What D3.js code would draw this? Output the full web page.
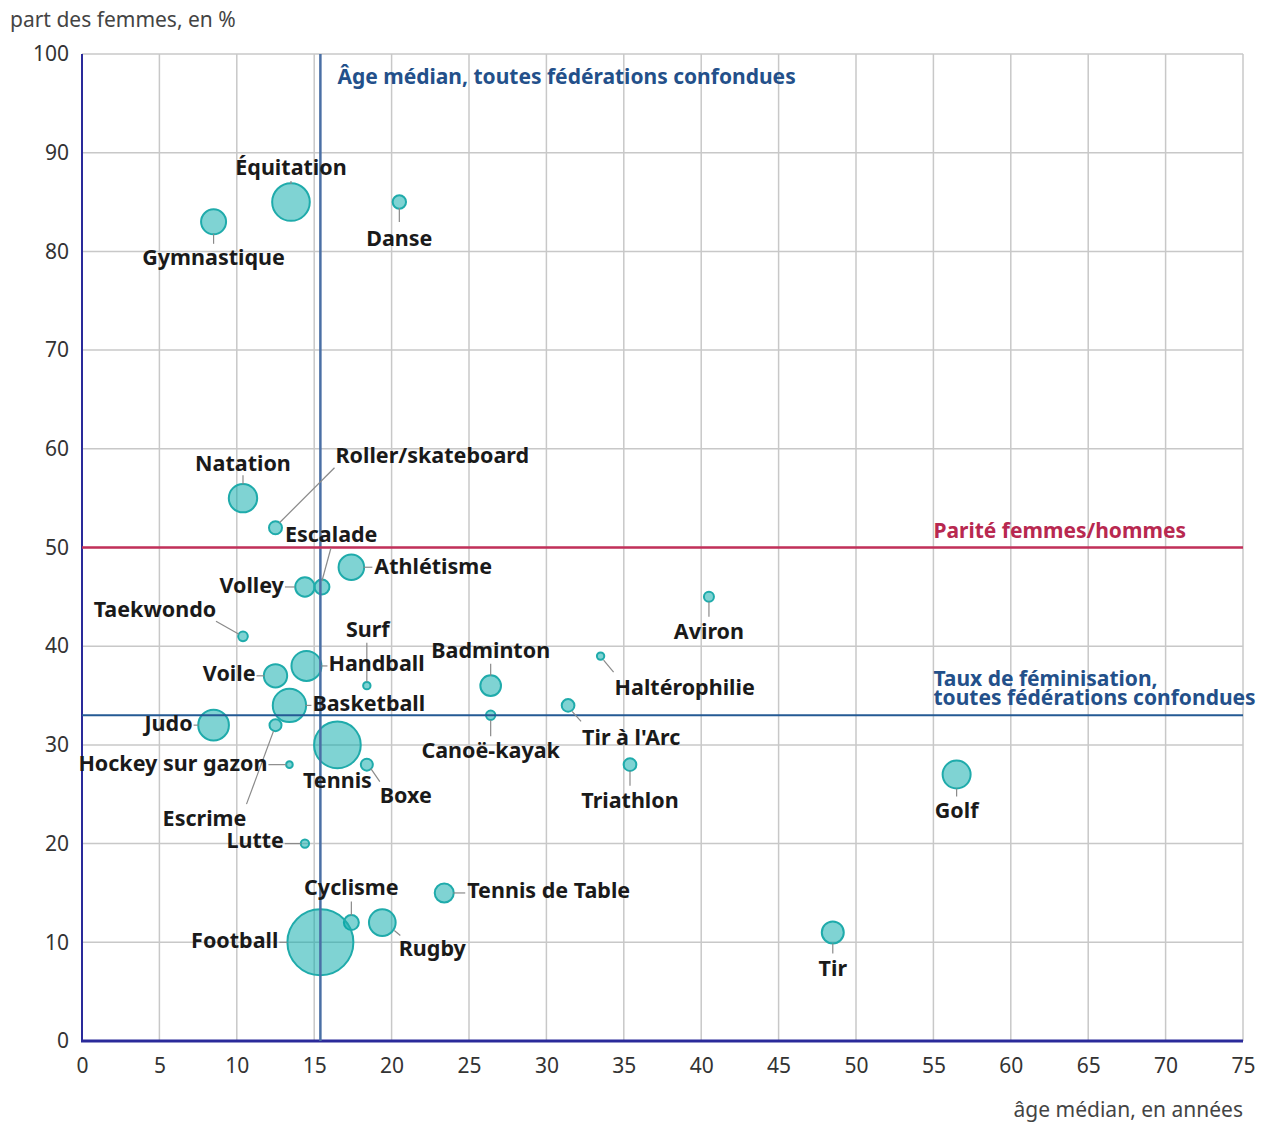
<!DOCTYPE html>
<html>
<head>
<meta charset="utf-8">
<script src="https://cdn.jsdelivr.net/npm/d3@7"></script>
<style>
  body { margin: 0; background: #fff; }
  svg { display: block; font-family: "Noto Sans", "Open Sans", sans-serif; }
</style>
</head>
<body>
<svg id="chart" width="1270" height="1124"></svg>
<script>
// sports, median age (years), share of women (%), licences (thousands, from bubble size)
const sports = ['Équitation', 'Gymnastique', 'Danse', 'Natation', 'Roller/skateboard', 'Escalade',
  'Athlétisme', 'Volley', 'Taekwondo', 'Surf', 'Handball', 'Badminton', 'Voile', 'Basketball',
  'Judo', 'Escrime', 'Hockey sur gazon', 'Tennis', 'Boxe', 'Lutte', 'Cyclisme', 'Football',
  'Rugby', 'Tennis de Table', 'Canoë-kayak', "Tir à l'Arc", 'Haltérophilie', 'Triathlon',
  'Aviron', 'Golf', 'Tir']
const medianAge = [13.5, 8.5, 20.5, 10.4, 12.5, 15.5, 17.4, 14.4, 10.4, 18.4, 14.5, 26.4, 12.5, 13.4,
  8.5, 12.5, 13.4, 16.5, 18.4, 14.4, 17.4, 15.4, 19.4, 23.4, 26.4, 31.4, 33.5, 35.4, 40.5, 56.5, 48.5]
const womenShare = [85, 83, 85, 55, 52, 46, 48, 46, 41, 36, 38, 36, 37, 34,
  32, 32, 28, 30, 28, 20, 12, 10, 12, 15, 33, 34, 39, 28, 45, 27, 11]
const licences = [650, 287, 82, 370, 78, 103, 300, 172, 43, 25, 413, 196, 250, 510,
  432, 66, 20, 1000, 66, 32, 103, 2000, 327, 166, 40, 74, 25, 74, 46, 360, 222]

const xTicks = d3.range(0, 76, 5)
const yTicks = d3.range(0, 101, 10)
const overallMedianAge = 15.4
const overallWomenShare = 33
const parity = 50

// label placement relative to bubble centre: [anchor, dx, dy, leader x1, y1, x2, y2]
const labelPos = {
  'Équitation': ['middle', 0, -35, 0, -18, 0, -21],
  'Gymnastique': ['middle', 0, 36, 0, 12, 0, 22],
  'Danse': ['middle', 0, 36, 0, 6, 0, 20],
  'Natation': ['middle', 0, -35, 0, -14, 0, -23],
  'Roller/skateboard': ['start', 60, -72, 4, -5, 59, -60],
  'Escalade': ['start', -37, -53, 0, -6, 9, -39],
  'Athlétisme': ['start', 23, -1, 12, 0, 21, 0],
  'Volley': ['end', -21, -2, -20, 0, -10, 0],
  'Taekwondo': ['middle', -88, -27, -27, -15, -4, -2],
  'Surf': ['middle', 1, -56, 0, -43, 0, -4],
  'Handball': ['start', 22, -2, 15, 0, 21, 0],
  'Badminton': ['middle', 0, -35, 0, -22, 0, -10],
  'Voile': ['end', -20, -2, -19, 0, -11, 0],
  'Basketball': ['start', 23, -2, 16, 0, 22, 0],
  'Judo': ['end', -21, -2, -20, 0, -15, 0],
  'Escrime': ['middle', -71, 93, -2, 6, -29, 79],
  'Hockey sur gazon': ['end', -22, -1, -21, 0, -3, 0],
  'Tennis': ['middle', 0, 36, 0, 0, 0, 0],
  'Boxe': ['middle', 39, 31, 4, 4, 13, 17],
  'Lutte': ['end', -21, -3, -20, 0, -4, 0],
  'Cyclisme': ['middle', 0, -35, 0, -21, 0, -7],
  'Football': ['end', -42, -2, -41, 0, -33, 0],
  'Rugby': ['middle', 50, 26, 12, 8, 18, 13],
  'Tennis de Table': ['start', 23, -2, 9, 0, 21, 0],
  'Canoë-kayak': ['middle', 0, 35, 0, 5, 0, 21],
  "Tir à l'Arc": ['start', 14, 32, 4, 6, 13, 16],
  'Haltérophilie': ['start', 14, 31, 3, 4, 13, 16],
  'Triathlon': ['middle', 0, 36, 0, 6, 0, 21],
  'Aviron': ['middle', 0, 35, 0, 5, 0, 20],
  'Golf': ['middle', 0, 36, 0, 14, 0, 22],
  'Tir': ['middle', 0, 36, 0, 11, 0, 21]
}

const data = sports.map((name, i) => ({ name, age: medianAge[i], share: womenShare[i], lic: licences[i] }))

const svg = d3.select('#chart')
const x = d3.scaleLinear().domain([0, 75]).range([82, 1243])
const y = d3.scaleLinear().domain([0, 100]).range([1041, 54])
const r = d3.scaleSqrt().domain([0, 2000]).range([0, 33])

// grid
svg.append('g').selectAll('line').data(xTicks.slice(1)).join('line')
  .attr('x1', d => x(d)).attr('x2', d => x(d)).attr('y1', y(0)).attr('y2', y(100))
  .attr('stroke', '#c8c8c8').attr('stroke-width', 1.5)
svg.append('g').selectAll('line').data(yTicks.slice(1)).join('line')
  .attr('x1', x(0)).attr('x2', x(75)).attr('y1', d => y(d)).attr('y2', d => y(d))
  .attr('stroke', '#c8c8c8').attr('stroke-width', 1.5)

// axes
const xAxis = d3.axisBottom(x).tickValues(xTicks).tickSize(0).tickPadding(17)
const yAxis = d3.axisLeft(y).tickValues(yTicks).tickSize(0).tickPadding(13)
const gx = svg.append('g').attr('transform', `translate(0,${y(0)})`).call(xAxis)
const gy = svg.append('g').attr('transform', `translate(${x(0)},0)`).call(yAxis)
gx.select('.domain').remove()
gy.select('.domain').remove()
svg.selectAll('.tick text').attr('font-size', 21).attr('fill', '#333').attr('font-family', '"Noto Sans", sans-serif')
svg.append('line').attr('x1', x(0)).attr('x2', x(0)).attr('y1', y(100)).attr('y2', y(0))
  .attr('stroke', '#2a2a9a').attr('stroke-width', 2)
svg.append('line').attr('x1', x(0) - 1).attr('x2', x(75)).attr('y1', y(0)).attr('y2', y(0))
  .attr('stroke', '#2a2a9a').attr('stroke-width', 3)

svg.append('text').attr('x', 10).attr('y', 27).attr('font-size', 21).attr('fill', '#444')
  .text('part des femmes, en %')
svg.append('text').attr('x', x(75)).attr('y', 1117).attr('text-anchor', 'end').attr('font-size', 21).attr('fill', '#444')
  .text('âge médian, en années')

// leaders
const lab = svg.append('g')
lab.selectAll('line').data(data.filter(d => labelPos[d.name][3] !== labelPos[d.name][5] || labelPos[d.name][4] !== labelPos[d.name][6])).join('line')
  .attr('x1', d => x(d.age) + labelPos[d.name][3]).attr('y1', d => y(d.share) + labelPos[d.name][4])
  .attr('x2', d => x(d.age) + labelPos[d.name][5]).attr('y2', d => y(d.share) + labelPos[d.name][6])
  .attr('stroke', '#8a8a8a').attr('stroke-width', 1.2)

// bubbles
svg.append('g').selectAll('circle').data(data).join('circle')
  .attr('cx', d => x(d.age)).attr('cy', d => y(d.share)).attr('r', d => r(d.lic))
  .attr('fill', 'rgba(0,168,168,0.5)').attr('stroke', '#1fabab').attr('stroke-width', 2)

// reference lines
svg.append('line').attr('x1', x(overallMedianAge)).attr('x2', x(overallMedianAge)).attr('y1', y(100)).attr('y2', y(0))
  .attr('stroke', '#4a6fa5').attr('stroke-width', 2.5)
svg.append('line').attr('x1', x(0)).attr('x2', x(75)).attr('y1', y(parity)).attr('y2', y(parity))
  .attr('stroke', '#c2305a').attr('stroke-width', 2.5)
svg.append('line').attr('x1', x(0)).attr('x2', x(75)).attr('y1', y(overallWomenShare)).attr('y2', y(overallWomenShare))
  .attr('stroke', '#245a94').attr('stroke-width', 2)

svg.append('text').attr('x', x(overallMedianAge) + 17).attr('y', 84).attr('font-size', 21).attr('font-weight', 'bold')
  .attr('fill', '#23508a').text('Âge médian, toutes fédérations confondues')
svg.append('text').attr('x', x(55)).attr('y', y(parity) - 10).attr('font-size', 21).attr('font-weight', 'bold')
  .attr('fill', '#b82850').text('Parité femmes/hommes')
svg.append('text').attr('x', x(55)).attr('y', y(overallWomenShare) - 29).attr('font-size', 21).attr('font-weight', 'bold')
  .attr('fill', '#23508a')
  .call(t => {
    t.append('tspan').attr('x', x(55)).text('Taux de féminisation,')
    t.append('tspan').attr('x', x(55)).attr('dy', 19).text('toutes fédérations confondues')
  })

// sport labels
lab.selectAll('text').data(data).join('text')
  .attr('x', d => x(d.age) + labelPos[d.name][1]).attr('y', d => y(d.share) + labelPos[d.name][2])
  .attr('dy', '0.35em').attr('text-anchor', d => labelPos[d.name][0])
  .attr('font-size', 21.5).attr('font-weight', 'bold').attr('fill', '#1a1a1a')
  .text(d => d.name)
svg.node().appendChild(lab.node())
</script>
</body>
</html>
